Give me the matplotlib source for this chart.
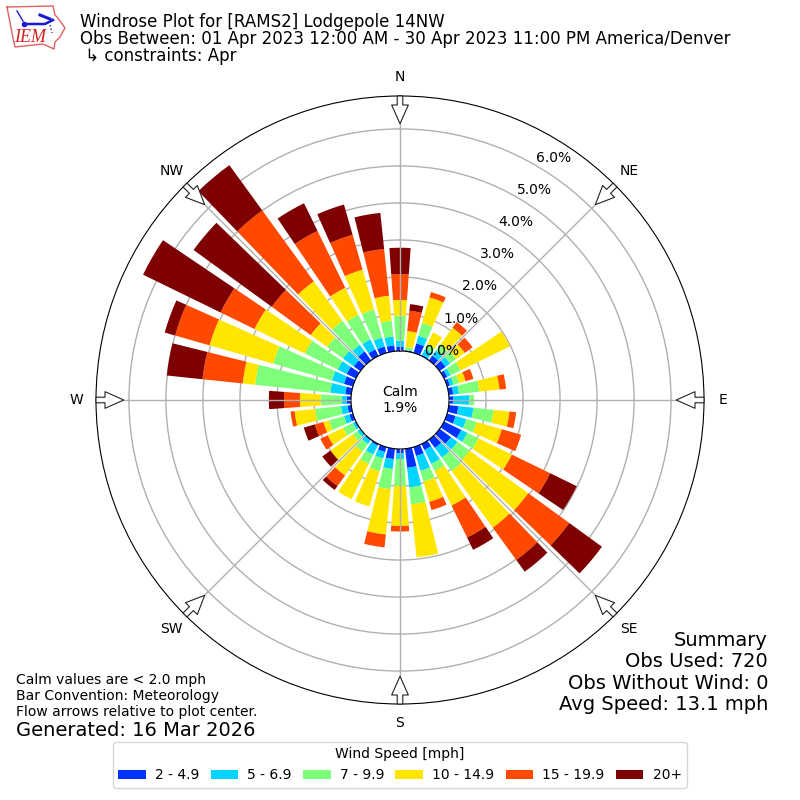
import numpy as np
import matplotlib
matplotlib.use("Agg")
import matplotlib.pyplot as plt

directions = np.arange(0, 360, 10)
speed_2_5 = [.12, .03, .27, .03, .16, .20, .10, .08, .12, .12, .26, .24, .52, .38, .28, .18, .25, .52,
             .12, .28, .14, .05, .03, .00, .03, .10, .10, .12, .16, .25, .28, .22, .30, .20, .18, .16]
speed_5_7 = [.16, .00, .21, .18, .17, .15, .10, .10, .16, .43, .41, .30, .18, .22, .32, .42, .42, .53,
             .15, .27, .18, .27, .12, .10, .07, .15, .18, .13, .41, .34, .27, .36, .22, .30, .25, .24]
speed_7_10 = [.67, .09, .36, .15, .19, .20, .30, .16, .55, .13, .55, .29, .34, .40, .45, .21, .30, .46,
              .73, .55, .36, .28, .25, .15, .29, .42, .70, .57, 2.04, 1.65, .99, .53, .80, .74, .79, .43]
speed_10_15 = [.43, .43, .72, .35, .57, .29, 1.48, .18, .55, .00, .43, .71, 1.00, 1.96, 1.89, 1.04, .57, 1.44,
               1.08, 1.23, .99, 1.06, .80, .75, .46, .16, .56, .56, .34, 1.79, 1.51, .55, 1.32, .81, 1.12, .68]
speed_15_20 = [.70, .55, .15, .00, .19, .26, .00, .22, .18, .00, .18, .54, 1.15, 1.37, 1.08, .96, .23, .00,
               .15, .35, .00, .00, .35, .00, .22, .24, .11, .43, 1.09, .97, 1.02, 1.30, 2.37, 1.71, .98, 1.27]
speed_20_up = [.71, .18, .00, .00, .00, .00, .00, .00, .00, .00, .00, .00, .80, 1.09, .39, .37, .00, .00,
               .00, .00, .00, .00, .13, .27, .00, .31, .00, .41, .97, .29, 2.33, 2.61, 1.51, .83, .85, .98]

speed_bins = [speed_2_5, speed_5_7, speed_7_10, speed_10_15, speed_15_20, speed_20_up]
speed_labels = ["2 - 4.9", "5 - 6.9", "7 - 9.9", "10 - 14.9", "15 - 19.9", "20+"]
speed_colors = ["#0032ff", "#00d4ff", "#7dff7a", "#ffe600", "#ff4800", "#7f0000"]

compass_angles = np.arange(0, 360, 45)
compass_labels = ["N", "NE", "E", "SE", "S", "SW", "W", "NW"]
ring_values = np.arange(0, 7)

note_lines = ["Calm values are < 2.0 mph", "Bar Convention: Meteorology", "Flow arrows relative to plot center."]
summary_lines = ["Summary", "Obs Used: 720", "Obs Without Wind: 0", "Avg Speed: 13.1 mph"]
title_lines = ["Windrose Plot for [RAMS2] Lodgepole 14NW",
               "Obs Between: 01 Apr 2023 12:00 AM - 30 Apr 2023 11:00 PM America/Denver",
               " \u21b3 constraints: Apr"]

RMAX = 6.89
RORIGIN = -1.324

fig = plt.figure(figsize=(8, 8), dpi=100)
ax = fig.add_axes([0.12, 0.12, 0.76, 0.76], projection="polar")
ax.set_theta_zero_location("N")
ax.set_theta_direction(-1)

bottom = np.zeros(len(directions))
for vals, lab, color in zip(speed_bins, speed_labels, speed_colors):
    ax.bar(np.radians(directions), vals, width=np.radians(8), bottom=bottom,
           color=color, label=lab, linewidth=0)
    bottom += np.array(vals)

ax.set_rorigin(RORIGIN)
ax.set_rlim(0, RMAX)
ax.set_rgrids(ring_values, labels=[f"{v:.1f}%" for v in ring_values], angle=30)
ax.set_thetagrids(compass_angles, labels=compass_labels)
ax.tick_params(axis="x", pad=3.5)
ax.grid(True, linewidth=1.0)
# spokes sit over the bars, rings behind them
ax.xaxis.set_zorder(2.5)
ax.yaxis.set_zorder(0.5)
for lab in ax.get_yticklabels():
    lab.set_ha("left")
    lab.set_va("bottom")
# the tick label at the inner edge does not get drawn
ax.text(np.radians(30), 0, "0.0%", ha="left", va="bottom", fontsize=10, zorder=6)

for ang in compass_angles:
    ax.annotate("", xy=(np.radians(ang), 6.14), xytext=(np.radians(ang), RMAX),
                arrowprops=dict(facecolor="white", edgecolor="#222222", width=4.0, headwidth=12,
                                headlength=13.5, shrink=0, linewidth=0.8),
                zorder=5, annotation_clip=False)

fig.text(0.5, 0.5, "Calm\n1.9%", ha="center", va="center", fontsize=10)

for line, y in zip(title_lines, [0.9725, 0.9515, 0.9295]):
    fig.text(0.1, y, line, fontsize=12, va="center")

for line, y in zip(note_lines, [0.15, 0.13, 0.11]):
    fig.text(0.02, y, line, fontsize=10, va="center")
fig.text(0.02, 0.0875, "Generated: 16 Mar 2026", fontsize=14, va="center")

for line, y in zip(summary_lines, [0.2, 0.1735, 0.146, 0.119]):
    fig.text(0.96, y, line, fontsize=14, ha="right", va="center")

handles, labels = ax.get_legend_handles_labels()
fig.legend(handles, labels, ncol=6, loc="lower center", bbox_to_anchor=(0.5, 0.0065),
           title="Wind Speed [mph]", fontsize=10, handletextpad=0.65, columnspacing=0.8)

# rough IEM logo, pixel coordinates
logo = fig.add_axes([0, 0.9, 0.1, 0.1])
logo.set_xlim(0, 80)
logo.set_ylim(80, 0)
logo.axis("off")
logo.plot([7, 53, 55, 58, 65, 60, 55, 54, 43, 15, 13, 7], [7, 6, 15, 18, 28, 37, 42, 49, 44, 47, 38, 7],
          color="#e06060", lw=1)
logo.plot([24, 45, 53], [24, 24, 20], color="#1a1ad0", lw=1.8)
logo.plot([17, 23], [11, 21], color="#1a1ad0", lw=1)
logo.plot([40, 50], [15, 19], color="#1a1ad0", lw=2.2)
logo.plot([50, 52], [25, 33], color="#1a1ad0", lw=1, ls=":")
logo.plot([24], [24], marker="o", ms=3, color="#1a1ad0")
logo.text(30, 38, "IEM", color="#d02020", fontsize=13, style="italic", family="Liberation Serif", ha="center", va="center")

fig.savefig("out.png", dpi=100)
